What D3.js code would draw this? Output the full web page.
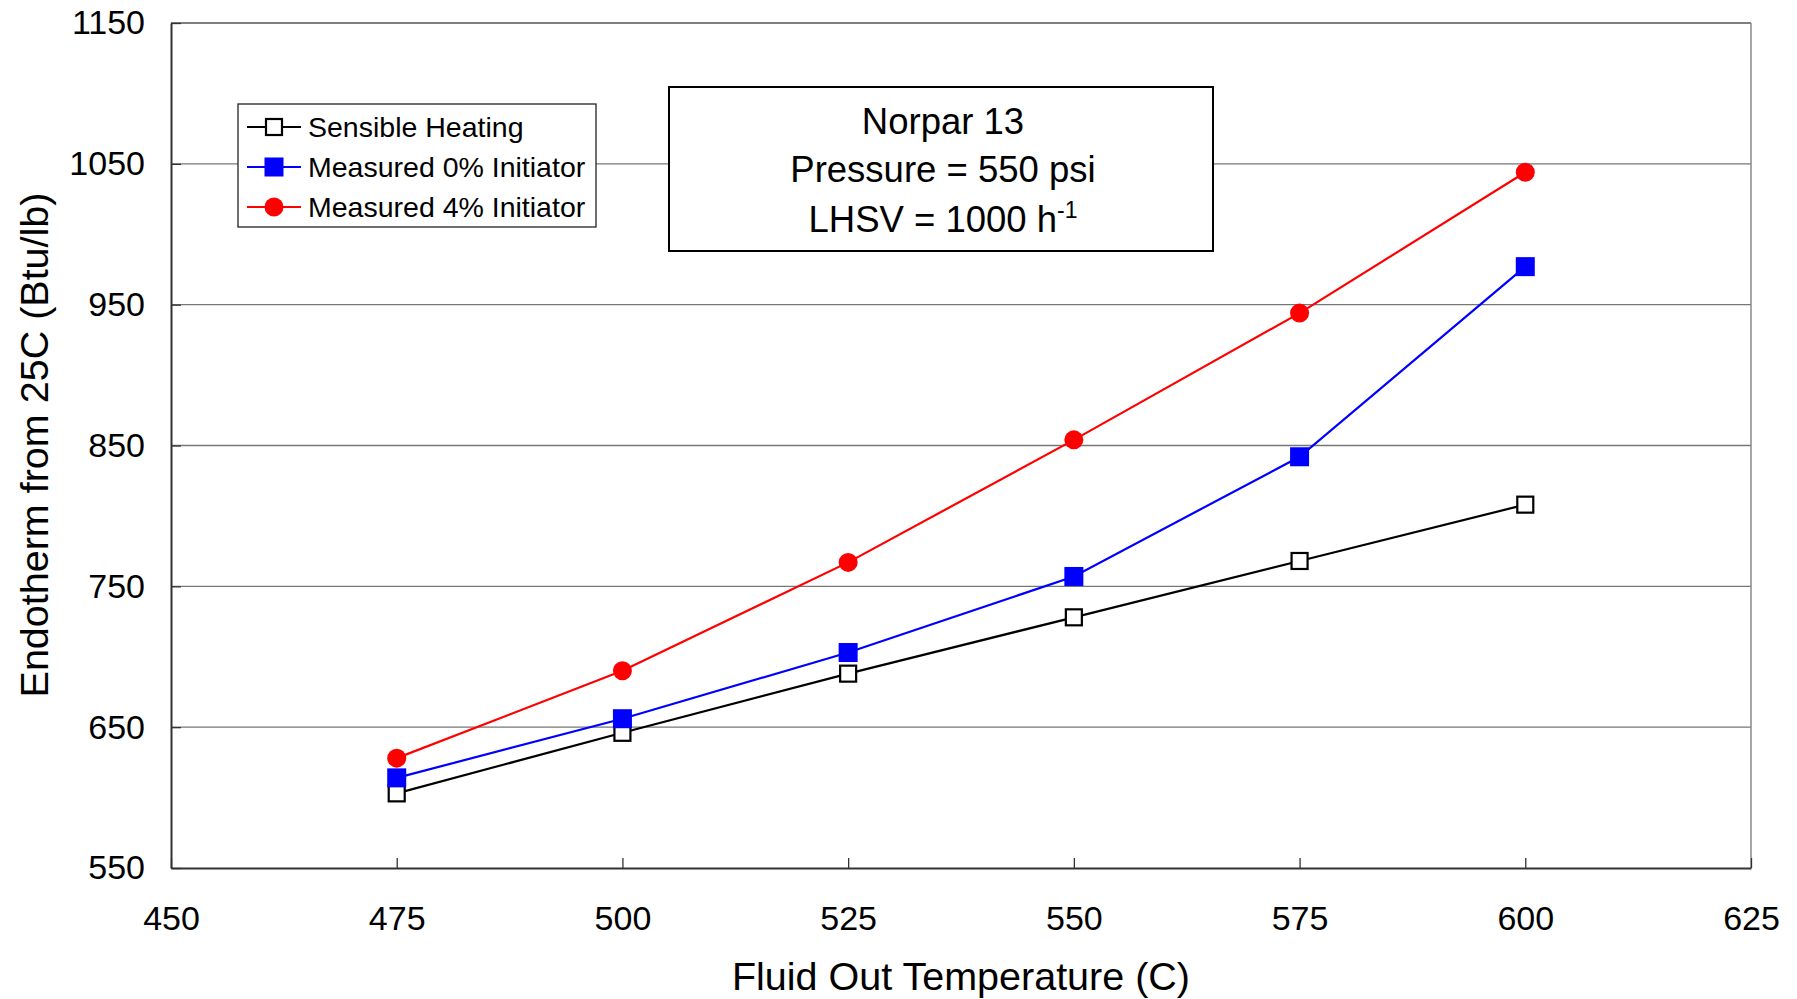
<!DOCTYPE html>
<html>
<head>
<meta charset="utf-8">
<script src="https://cdn.jsdelivr.net/npm/d3@7"></script>
<style>
  body { margin: 0; background: #fff; }
  svg { display: block; font-family: "Liberation Sans", Arial, sans-serif; }
</style>
</head>
<body>
<svg id="chart" width="1797" height="999"></svg>
<script>
// chart data
const temps = [475, 500, 525, 550, 575, 600];
const sensible = [603, 646, 688, 728, 768, 808];
const measured0 = [614, 656, 703, 757, 842, 977];
const measured4 = [628, 690, 767, 854, 944, 1044];
const xTicks = [450, 475, 500, 525, 550, 575, 600, 625];
const yTicks = [550, 650, 750, 850, 950, 1050, 1150];
const seriesNames = ["Sensible Heating", "Measured 0% Initiator", "Measured 4% Initiator"];
const infoLines = ["Norpar 13", "Pressure = 550 psi", "LHSV = 1000 h"];

const svg = d3.select("#chart");
const plotLeft = 171, plotRight = 1751, plotTop = 23, plotBottom = 868;

const x = d3.scaleLinear().domain([450, 625]).range([plotLeft, plotRight]);
const y = d3.scaleLinear().domain([550, 1150]).range([plotBottom, plotTop]);

// gridlines
svg.append("g")
  .selectAll("line")
  .data(yTicks.filter(d => d > 550 && d < 1150))
  .enter()
  .append("line")
  .attr("x1", plotLeft).attr("x2", plotRight)
  .attr("y1", d => y(d)).attr("y2", d => y(d))
  .attr("stroke", "#777").attr("stroke-width", 1.3);

// frame: top and right gray, left and bottom dark
svg.append("line").attr("x1", plotLeft).attr("x2", plotRight).attr("y1", plotTop).attr("y2", plotTop)
  .attr("stroke", "#555").attr("stroke-width", 1.3);
svg.append("line").attr("x1", plotRight).attr("x2", plotRight).attr("y1", plotTop).attr("y2", plotBottom)
  .attr("stroke", "#888").attr("stroke-width", 1.5);

// axes, ticks pointing inwards
const xAxis = d3.axisBottom(x).tickValues(xTicks).tickSize(-10).tickSizeOuter(0);
const gx = svg.append("g").attr("transform", `translate(0,${plotBottom})`).call(xAxis);
gx.select(".domain").attr("stroke", "#333").attr("stroke-width", 2);
gx.selectAll(".tick line").attr("stroke", "#333").attr("stroke-width", 1.3);
gx.selectAll(".tick text").attr("font-size", 34).attr("fill", "#000")
  .attr("font-family", "Liberation Sans, Arial, sans-serif").attr("dy", "0.71em")
  .attr("y", 38);

const yAxis = d3.axisLeft(y).tickValues(yTicks).tickFormat(d3.format("d"))
  .tickSize(-10).tickPadding(26).tickSizeOuter(0);
const gy = svg.append("g").attr("transform", `translate(${plotLeft},0)`).call(yAxis);
gy.select(".domain").attr("stroke", "#333").attr("stroke-width", 2);
gy.selectAll(".tick line").attr("stroke", "#333").attr("stroke-width", 1.3);
gy.selectAll(".tick text").attr("font-size", 34).attr("fill", "#000")
  .attr("font-family", "Liberation Sans, Arial, sans-serif");

// axis titles
svg.append("text")
  .attr("x", (plotLeft + plotRight) / 2).attr("y", 990)
  .attr("text-anchor", "middle").attr("font-size", 39.5)
  .text("Fluid Out Temperature (C)");

svg.append("text")
  .attr("transform", "translate(48,445) rotate(-90)")
  .attr("text-anchor", "middle").attr("font-size", 39.5)
  .text("Endotherm from 25C (Btu/lb)");

// series
const series = [
  { name: seriesNames[0], values: sensible, color: "#000", shape: "square", fill: "#fff" },
  { name: seriesNames[1], values: measured0, color: "#0000ff", shape: "square", fill: "#0000ff" },
  { name: seriesNames[2], values: measured4, color: "#ff0000", shape: "circle", fill: "#ff0000" }
];

const line = d3.line()
  .x((d, i) => x(temps[i]))
  .y(d => y(d));

function drawMarker(g, s, cx, cy) {
  if (s.shape === "circle") {
    g.append("circle").attr("cx", cx).attr("cy", cy).attr("r", 9.5).attr("fill", s.fill);
  } else if (s.fill === "#fff") {
    g.append("rect").attr("x", cx - 8).attr("y", cy - 8).attr("width", 16).attr("height", 16)
      .attr("fill", "#fff").attr("stroke", "#000").attr("stroke-width", 2.2);
  } else {
    g.append("rect").attr("x", cx - 9.5).attr("y", cy - 9.5).attr("width", 19).attr("height", 19)
      .attr("fill", s.fill);
  }
}

series.forEach(function(s) {
  const g = svg.append("g");
  g.append("path")
    .datum(s.values)
    .attr("d", line)
    .attr("fill", "none")
    .attr("stroke", s.color)
    .attr("stroke-width", 2.2);
  s.values.forEach(function(v, i) {
    drawMarker(g, s, x(temps[i]), y(v));
  });
});

// legend
const legend = svg.append("g");
legend.append("rect")
  .attr("x", 238).attr("y", 104).attr("width", 358).attr("height", 123)
  .attr("fill", "#fff").attr("stroke", "#222").attr("stroke-width", 1.3);
series.forEach(function(s, i) {
  const ly = 127 + i * 40;
  legend.append("line").attr("x1", 247).attr("x2", 301).attr("y1", ly).attr("y2", ly)
    .attr("stroke", s.color).attr("stroke-width", 2.2);
  drawMarker(legend, s, 274, ly);
  legend.append("text").attr("x", 308).attr("y", ly).attr("dy", "0.35em")
    .attr("font-size", 28.5).text(s.name);
});

// info box
const info = svg.append("g");
info.append("rect")
  .attr("x", 669).attr("y", 87).attr("width", 544).attr("height", 164)
  .attr("fill", "#fff").attr("stroke", "#000").attr("stroke-width", 2);
const infoY = [134, 182, 232];
infoLines.forEach(function(t, i) {
  const txt = info.append("text")
    .attr("x", 943).attr("y", infoY[i])
    .attr("text-anchor", "middle").attr("font-size", 36.5)
    .text(t);
  if (i === 2) {
    txt.append("tspan").attr("font-size", 23).attr("dy", -14).text("-1");
  }
});
</script>
</body>
</html>
